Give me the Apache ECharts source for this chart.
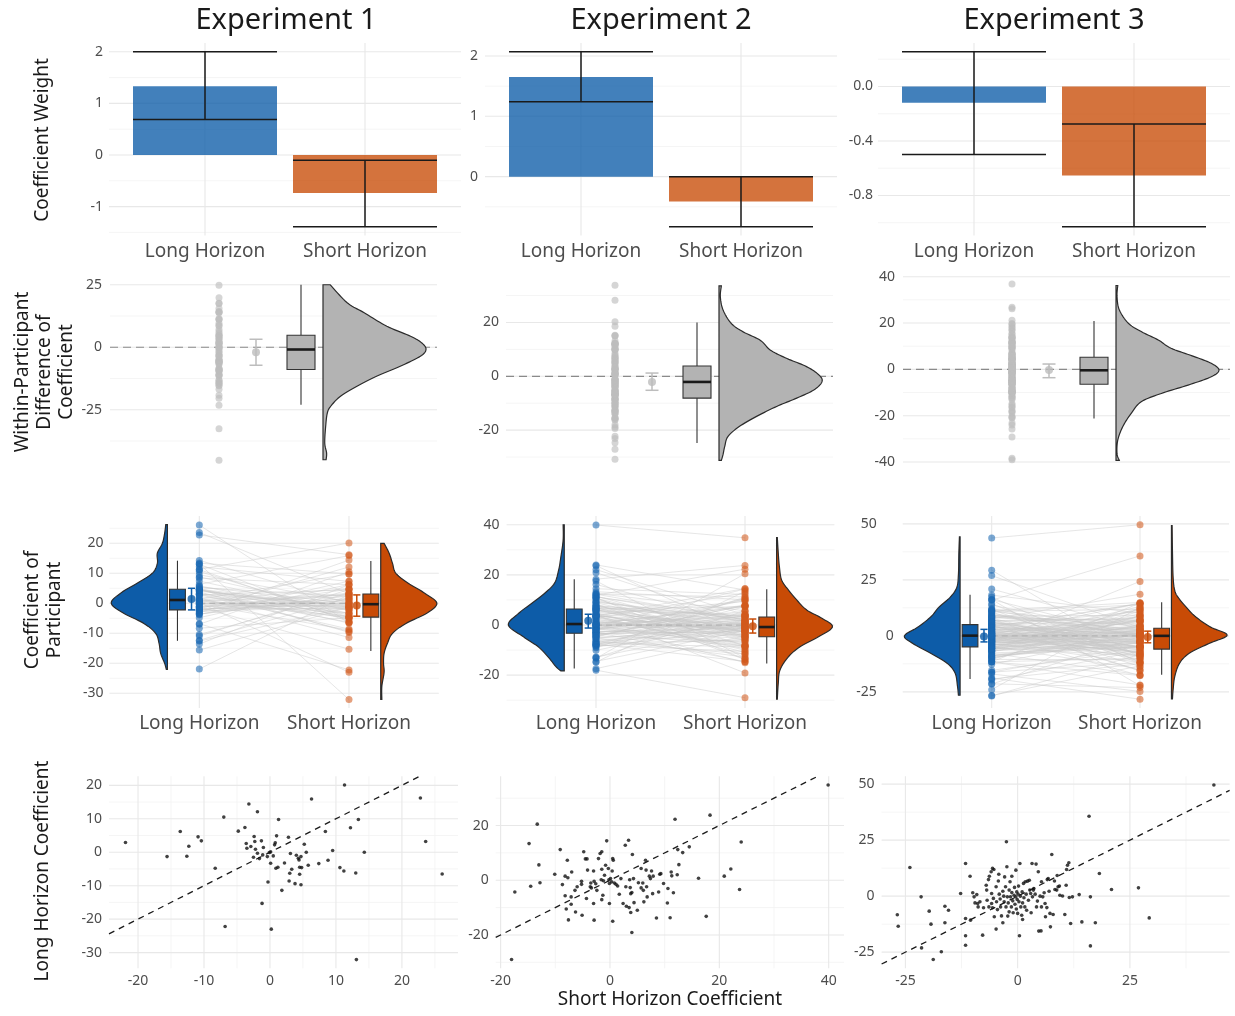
<!DOCTYPE html>
<html><head><meta charset="utf-8">
<script src="https://cdn.jsdelivr.net/npm/echarts@6/dist/echarts.min.js"></script>
<style>html,body{margin:0;padding:0;background:#fff}#c{width:1235px;height:1016px}</style>
</head><body><div id="c"></div>
<script>
// ---------------- DATA ----------------
const experiments = ['Experiment 1', 'Experiment 2', 'Experiment 3'];
const horizons = ['Long Horizon', 'Short Horizon'];

// Row 1: coefficient weights (Long, Short) with interval bounds
const weightMean = [[1.33, -0.735], [1.65, -0.41], [-0.12, -0.653]];
const weightLow  = [[0.69, -1.39], [1.24, -0.83], [-0.50, -1.03]];
const weightHigh = [[2.00, -0.10], [2.07, 0.00], [0.255, -0.275]];

// Participant coefficient pairs: [horizontal value, vertical value]
const exp1Pairs = [[-21.9,2.9],[-15.6,-1.3],[-13.6,6.2],[-12.3,1.8],[-12.6,-1.2],[-10.9,4.6],[-10.4,3.4],[-8.3,-4.8],[-7.0,10.5],[-6.8,-22.2],[-4.8,6.3],[-3.8,7.4],[-3.2,14.4],[-3.6,2.6],[-3.5,1.2],[-2.9,1.7],[-1.9,12.1],[-2.4,4.7],[-2.3,3.2],[-2.2,0.9],[-2.5,-1.5],[-1.9,-0.3],[-1.6,-1.9],[-1.3,3.4],[-1.0,1.4],[-1.1,-0.8],[-1.2,-15.3],[-0.4,-1.3],[-0.1,-0.1],[0.1,0.1],[0.5,-1.1],[0.1,-3.3],[-0.3,-8.9],[0.2,-23.0],[1.3,9.8],[0.7,2.2],[0.8,2.8],[1.0,4.9],[0.9,-4.8],[1.2,-4.5],[1.8,-11.4],[2.2,-3.2],[2.8,4.5],[3.1,-0.4],[3.0,-6.3],[2.9,-8.6],[3.3,-5.1],[3.8,-9.4],[4.0,-0.9],[4.3,-1.8],[4.4,-2.3],[4.5,-4.5],[4.5,-6.6],[4.7,-1.3],[4.8,-4.6],[4.7,-9.7],[5.2,2.4],[5.5,0.0],[5.8,-3.9],[6.3,15.9],[7.4,-3.4],[8.4,6.2],[8.8,-2.4],[9.5,0.5],[10.6,-4.6],[11.2,-5.6],[11.3,20.1],[12.2,7.3],[13.0,-6.2],[13.1,-32.1],[13.4,9.8],[14.3,0.0],[22.8,16.2],[23.6,3.2],[26.1,-6.5]];
const exp2Pairs = [[-18.0,-29.0],[-17.4,-4.3],[-14.8,13.4],[-14.5,-2.2],[-13.3,20.5],[-13.0,5.6],[-12.8,-0.9],[-10.1,2.2],[-9.1,11.2],[-8.7,-1.6],[-8.2,1.5],[-8.2,-5.7],[-7.8,7.3],[-7.7,0.9],[-8.0,-10.5],[-7.6,-14.5],[-7.1,-8.8],[-7.1,-6.1],[-7.0,3.0],[-6.4,-3.7],[-6.3,-11.6],[-6.0,-2.4],[-5.2,-0.4],[-5.2,-1.5],[-5.1,-12.8],[-4.8,10.4],[-4.5,7.8],[-4.2,7.8],[-4.1,3.7],[-4.3,-6.7],[-3.5,-1.0],[-3.6,-2.4],[-3.4,-2.8],[-3.0,3.4],[-3.0,-8.5],[-2.9,-14.6],[-2.9,-0.4],[-2.6,-1.3],[-2.4,-3.7],[-2.1,7.9],[-1.8,9.8],[-1.5,10.4],[-1.5,4.0],[-1.6,0.2],[-1.3,-5.5],[-1.5,-7.1],[-1.2,-0.2],[-1.0,1.8],[-0.8,5.5],[-0.6,14.4],[-0.3,4.3],[-0.2,0.2],[-0.1,-1.2],[-0.1,-8.5],[0.1,0.6],[0.3,-0.6],[0.4,3.4],[0.5,7.9],[0.6,7.3],[0.5,-15.0],[0.8,-1.0],[1.1,-1.5],[1.4,-2.1],[1.7,-5.1],[2.0,0.6],[2.4,-8.5],[2.8,12.8],[2.9,-2.4],[3.0,-9.5],[3.4,14.6],[3.5,-10.0],[3.6,0.2],[3.7,-2.7],[3.8,-4.9],[3.8,-11.8],[4.0,-19.1],[4.1,9.4],[4.3,0.6],[4.0,-4.5],[4.4,-8.2],[5.0,-11.0],[5.2,-0.9],[5.7,-2.8],[5.7,4.3],[6.0,-1.0],[6.1,-3.7],[6.2,-7.9],[6.5,7.3],[6.6,3.7],[6.7,-2.4],[6.8,-6.1],[7.2,1.5],[7.4,0.6],[7.6,3.4],[7.8,-4.9],[7.9,1.5],[8.5,-13.8],[8.9,-4.3],[9.1,2.2],[9.3,2.4],[9.8,-1.2],[10.5,-8.3],[10.6,-3.0],[11.0,-13.7],[11.2,3.0],[11.3,1.6],[11.6,-4.6],[11.9,22.3],[12.3,2.0],[12.4,11.2],[12.6,5.7],[13.3,10.1],[14.5,12.2],[16.2,0.7],[17.6,-13.2],[18.3,23.8],[20.9,1.5],[22.1,4.1],[23.7,-3.4],[24.0,14.0],[39.9,34.8]];
const exp3Pairs = [[-26.8,-8.3],[-26.6,-13.4],[-24.0,12.8],[-21.5,-0.3],[-21.4,-23.1],[-19.7,-6.7],[-19.3,-12.5],[-18.8,-28.3],[-17.0,-24.8],[-16.2,-4.5],[-16.2,-11.9],[-15.4,-6.3],[-12.7,1.2],[-11.6,14.6],[-11.6,-10.0],[-11.6,-17.7],[-11.6,-21.9],[-10.6,8.9],[-10.5,-10.7],[-10.0,1.5],[-9.7,-0.3],[-9.5,-3.0],[-9.1,0.7],[-8.9,-3.3],[-8.8,-4.8],[-8.4,-2.5],[-7.8,-17.4],[-7.6,-5.2],[-7.0,4.9],[-6.9,2.7],[-6.8,-1.8],[-6.5,7.4],[-6.4,-4.8],[-6.3,8.9],[-5.9,10.9],[-5.6,12.4],[-5.3,11.9],[-5.8,1.2],[-5.8,-3.3],[-5.6,-5.2],[-5.4,-1.0],[-5.2,-9.2],[-4.8,-14.7],[-4.8,4.2],[-4.7,-2.5],[-4.5,-6.0],[-4.3,6.8],[-4.2,9.8],[-4.1,0.9],[-3.9,-1.3],[-3.8,-4.8],[-3.6,-8.8],[-3.3,2.2],[-3.3,-11.9],[-3.1,0.0],[-3.0,-2.5],[-2.9,8.6],[-2.7,4.2],[-2.6,-4.8],[-2.5,24.3],[-2.4,13.1],[-2.3,-0.3],[-2.2,-8.9],[-2.1,-3.0],[-1.9,2.7],[-1.9,-7.0],[-1.7,6.4],[-1.6,-0.3],[-1.4,-4.8],[-1.3,8.9],[-1.3,1.6],[-1.1,-2.1],[-1.0,-7.4],[-0.8,0.4],[-0.7,3.9],[-0.6,-3.6],[-0.4,-0.3],[-0.4,11.6],[-0.3,-5.7],[-0.2,1.9],[-0.1,-1.5],[0.0,-7.7],[0.1,0.9],[0.2,4.5],[0.3,-2.5],[0.4,-17.7],[0.5,14.6],[0.6,0.0],[0.7,-4.8],[0.9,-8.5],[1.0,1.9],[1.1,-3.0],[1.1,-10.4],[1.3,5.7],[1.4,-0.7],[1.6,-4.8],[1.7,6.4],[1.9,0.9],[2.0,-6.3],[2.2,6.7],[2.4,-1.8],[2.6,7.1],[2.7,2.7],[2.9,1.2],[3.0,-7.4],[3.2,14.6],[3.3,-0.3],[3.5,2.7],[3.6,3.4],[3.9,0.9],[4.1,14.3],[4.2,-4.8],[4.4,-2.2],[4.6,10.9],[4.7,-15.6],[5.0,0.0],[5.2,-15.5],[5.3,6.4],[5.3,-4.8],[5.6,-0.3],[5.9,1.5],[6.1,-3.3],[6.2,-9.2],[6.5,-5.1],[6.6,7.4],[6.8,7.9],[7.0,2.2],[7.2,-7.7],[7.3,-13.7],[7.6,18.6],[7.9,-8.2],[8.2,6.8],[8.3,3.0],[8.7,2.7],[8.8,9.2],[9.0,4.2],[9.3,4.5],[9.4,0.4],[10.0,0.1],[10.5,-8.2],[10.8,4.9],[10.9,11.9],[11.1,13.8],[11.4,14.9],[11.5,-0.6],[11.8,-12.2],[12.2,-0.3],[13.7,0.7],[14.3,-11.5],[16.2,-0.3],[16.2,-22.2],[15.9,35.7],[17.3,-11.9],[18.2,10.1],[20.9,3.0],[26.9,3.7],[29.3,-9.7],[43.7,49.6]];
const pairsByExp = [exp1Pairs, exp2Pairs, exp3Pairs];

// Row 2: within-participant difference summaries [min, Q1, median, Q3, max] and [mean, low, high]
const diffBox = [[-23.0,-8.9,-0.9,4.8,25.0],[-24.8,-8.1,-2.1,3.8,20.0],[-21.2,-6.4,-0.4,5.2,20.9]];
const diffMeanCI = [[-2.0,-7.2,3.2],[-2.1,-5.2,1.2],[-0.3,-3.6,2.3]];
// half-violin profiles [value, relative width]
const diffViolin1 = [[25,0.07],[17.8,0.235],[13.8,0.40],[8.4,0.62],[4.4,0.85],[1.7,0.96],[-0.9,1.0],[-3.6,0.945],[-7.6,0.75],[-11.6,0.52],[-15.6,0.33],[-19.6,0.17],[-23.6,0.075],[-26.3,0.042],[-31.6,0.026],[-38.3,0.017],[-42.3,0.035],[-45,0.03]];
const diffViolin2 = [[33.6,0.023],[29.5,0.013],[24.6,0.04],[19.6,0.12],[16.5,0.235],[13.4,0.40],[9.7,0.50],[6.6,0.66],[3.6,0.85],[0.5,0.97],[-2.0,1.0],[-5.1,0.92],[-8.1,0.755],[-11.2,0.56],[-14.9,0.365],[-18.6,0.2],[-22.3,0.088],[-26,0.056],[-29.1,0.039],[-31.2,0.023]];
const diffViolin3 = [[36.2,0.017],[31.5,0.01],[25.7,0.032],[19.9,0.12],[16.3,0.245],[12.7,0.41],[9.1,0.535],[5.5,0.76],[2.6,0.925],[-0.3,1.0],[-3.2,0.925],[-6.8,0.70],[-10.4,0.44],[-14,0.245],[-19.1,0.146],[-24.8,0.065],[-30.6,0.017],[-36.4,0.01],[-39.3,0.032]];
const diffViolins = [diffViolin1, diffViolin2, diffViolin3];

// Row 3: participant coefficient summaries
const coefBoxLong  = [[-12.5,-2.2,1.1,4.7,14.2],[-17.3,-3.3,0.4,6.4,18.3],[-19.3,-4.9,0.1,5.0,18.3]];
const coefBoxShort = [[-15.9,-4.6,-0.3,3.1,14.1],[-15.3,-4.7,-0.8,3.2,14.3],[-17.4,-5.9,0.0,3.4,15.0]];
const coefMeanLong  = [[1.4,-2.2,5.0],[1.7,-1.2,4.3],[-0.3,-2.7,2.9]];
const coefMeanShort = [[-0.7,-4.3,2.8],[-0.5,-3.2,2.4],[-0.5,-3.1,2.1]];
const coefViolinLong = [
  [[26.2,0.03],[23.3,0.05],[20,0.09],[16.7,0.18],[13.3,0.18],[10,0.27],[6.7,0.54],[3.3,0.84],[0,1.0],[-3.3,0.78],[-6.7,0.42],[-10,0.21],[-13.3,0.15],[-16.7,0.12],[-20,0.05],[-22,0.02]],
  [[40,0.02],[34,0.02],[27.3,0.06],[22,0.1],[16.7,0.175],[12.7,0.35],[8.7,0.58],[4.7,0.815],[0,1.0],[-4.7,0.73],[-8.7,0.465],[-12.7,0.29],[-16.7,0.145],[-18.3,0.06]],
  [[44.2,0.012],[36.4,0.023],[27.5,0.03],[21.6,0.06],[17.2,0.18],[12.8,0.38],[8.4,0.53],[3.9,0.76],[0,1.0],[-3.4,0.85],[-7.8,0.53],[-12.2,0.235],[-16.6,0.09],[-22.5,0.047],[-26.5,0.03]]
];
const coefViolinShort = [
  [[20,0.06],[16.7,0.15],[13.3,0.21],[10,0.27],[6.7,0.49],[3.3,0.79],[0,1.0],[-3.3,0.82],[-6.7,0.45],[-10,0.21],[-13.3,0.12],[-16.7,0.06],[-20,0.05],[-23,0.06],[-27.7,0.02],[-32,0.02]],
  [[34.9,0.013],[28.7,0.03],[23.3,0.05],[18,0.09],[14,0.21],[10,0.36],[6,0.54],[2.7,0.81],[-0.7,1.0],[-4.7,0.75],[-8.7,0.42],[-12.7,0.21],[-18,0.06],[-23.3,0.03],[-29.6,0.013]],
  [[49.2,0.012],[37.9,0.018],[26.1,0.03],[20.2,0.06],[17.2,0.12],[12.8,0.265],[8.4,0.44],[3.9,0.705],[0.3,1.0],[-3.4,0.675],[-7.8,0.32],[-12.2,0.146],[-18.1,0.06],[-24,0.03],[-28.1,0.018]]
];

// Tick values
const weightTicks = [[-1,0,1,2],[0,1,2],[-0.8,-0.4,0]];
const weightMinor = [[-1.5,-0.5,0.5,1.5],[-0.5,0.5,1.5],[-1.0,-0.6,-0.2,0.2]];
const diffTicks = [[-25,0,25],[-20,0,20],[-40,-20,0,20,40]];
const diffMinor = [[-37.5,-12.5,12.5],[-30,-10,10,30],[-30,-10,10,30]];
const coefTicks = [[-30,-20,-10,0,10,20],[-20,0,20,40],[-25,0,25,50]];
const coefMinor = [[-25,-15,-5,5,15,25],[-30,-10,10,30],[-12.5,12.5,37.5]];
const scatXTicks = [[-20,-10,0,10,20],[-20,0,20,40],[-25,0,25]];
const scatXMinor = [[-15,-5,5,15,25],[-10,10,30],[-12.5,12.5,37.5]];
const scatYTicks = [[-30,-20,-10,0,10,20],[-20,0,20],[-25,0,25,50]];
const scatYMinor = [[-25,-15,-5,5,15],[-30,-10,10,30],[-12.5,12.5,37.5]];

// ---------------- LAYOUT / STYLE ----------------
const FONT = '"Noto Sans", "Open Sans", sans-serif';
const BLUE = '#0d5ca8', ORANGE = '#c84b06';
const BLUE_A = 'rgba(13,92,168,0.78)', ORANGE_A = 'rgba(200,75,6,0.78)';
const BLUE_P = 'rgba(26,104,178,0.72)', ORANGE_P = 'rgba(210,90,30,0.72)';
const TICK = '#4d4d4d';
const rowsY = [[43,235.5],[276,468.5],[516,708],[776.3,968.3]];
const colsX = [
  [[109,461],[485,837],[878,1230]],
  [[110,437],[506,833],[903,1230]],
  [[109.5,438.8],[506.6,834.4],[902.7,1229]],
  [[109,458],[495.7,844],[881.6,1229.6]]
];
const xRanges = [
  [[0.4,2.6],[0.4,2.6],[0.4,2.6]],
  [[0,327],[0,327],[0,327]],
  [[0.4,2.6],[0.4,2.6],[0.4,2.6]],
  [[-24.4,28.5],[-20.9,42.8],[-30.3,47.2]]
];
const yRanges = [
  [[-1.56,2.17],[-0.975,2.215],[-1.094,0.319]],
  [[-48.5,28.5],[-34.25,37.25],[-42.8,40.3]],
  [[-34.9,29.1],[-33.1,43.5],[-32.2,53.5]],
  [[-34.7,22.7],[-32.2,38.0],[-32.2,53.5]]
];
const yLabelMargin = [[6,7,5],[8,7,8],[6,7,9],[7,7,7]];

const option = { animation:false, textStyle:{fontFamily:FONT}, grid:[], xAxis:[], yAxis:[], series:[], graphic:[] };

function smoothPts(pts, steps) {
  const out = [];
  for (let i = 0; i < pts.length - 1; i++) {
    const p0 = pts[Math.max(0,i-1)], p1 = pts[i], p2 = pts[i+1], p3 = pts[Math.min(pts.length-1,i+2)];
    for (let s = 0; s < steps; s++) {
      const t = s/steps, t2 = t*t, t3 = t2*t;
      const f = (a,b,c,d) => 0.5*((2*b) + (-a+c)*t + (2*a-5*b+4*c-d)*t2 + (-a+3*b-3*c+d)*t3);
      out.push([f(p0[0],p1[0],p2[0],p3[0]), f(p0[1],p1[1],p2[1],p3[1])]);
    }
  }
  out.push(pts[pts.length-1]);
  return out;
}

function addGrid(r, c, xLabelVals, xFmt, xFont, xMargin, yLabelVals, yFmt, yRich) {
  const g = option.grid.length;
  const [L, R] = colsX[r][c], [T, B] = rowsY[r];
  option.grid.push({left:L, top:T, width:R-L, height:B-T, containLabel:false, outerBoundsMode:'none'});
  option.xAxis.push({type:'value', gridIndex:g, min:xRanges[r][c][0], max:xRanges[r][c][1],
    splitLine:{show:false}, axisLine:{show:false}, axisTick:{show:false, customValues:xLabelVals},
    axisLabel:{show:xLabelVals.length>0, customValues:xLabelVals, formatter:xFmt, fontSize:xFont, color:TICK, margin:xMargin, fontFamily:FONT}});
  const yLab = {show:true, customValues:yLabelVals, formatter:yFmt, fontSize:14, color:TICK, margin:yLabelMargin[r][c], fontFamily:FONT};
  if (yRich) yLab.rich = yRich;
  option.yAxis.push({type:'value', gridIndex:g, min:yRanges[r][c][0], max:yRanges[r][c][1],
    splitLine:{show:false}, axisLine:{show:false}, axisTick:{show:false, customValues:yLabelVals},
    axisLabel:yLab});
  return g;
}

function gridLines(g, r, c, hMaj, hMin, vMaj, vMin) {
  const data = [];
  hMin.forEach(v => data.push([0, v, 0])); vMin.forEach(v => data.push([1, v, 0]));
  hMaj.forEach(v => data.push([0, v, 1])); vMaj.forEach(v => data.push([1, v, 1]));
  const x0 = xRanges[r][c][0], y0 = yRanges[r][c][0];
  option.series.push({type:'custom', xAxisIndex:g, yAxisIndex:g, silent:true, z:1, data,
    encode:{x:-1, y:-1},
    renderItem(p, api) {
      const cs = p.coordSys; const isV = api.value(0) === 1; const v = api.value(1); const maj = api.value(2) === 1;
      const style = {stroke: maj ? '#e8e8e8' : '#f2f2f2', lineWidth: maj ? 1.1 : 0.8};
      if (isV) { const x = api.coord([v, y0])[0]; return {type:'line', shape:{x1:x, y1:cs.y, x2:x, y2:cs.y+cs.height}, style}; }
      const y = api.coord([x0, v])[1];
      return {type:'line', shape:{x1:cs.x, y1:y, x2:cs.x+cs.width, y2:y}, style};
    }});
}

// horizontal dashed reference line; full = span the whole panel
function hDash(g, r, c, yv, full, xFrom, xTo, color, dash, z) {
  const x0 = xRanges[r][c][0];
  option.series.push({type:'custom', xAxisIndex:g, yAxisIndex:g, silent:true, z, data:[[yv]], encode:{x:-1,y:-1},
    renderItem(p, api) {
      const cs = p.coordSys;
      const y = api.coord([x0, api.value(0)])[1];
      let x1 = cs.x, x2 = cs.x + cs.width;
      if (!full) { x1 = api.coord([xFrom, yv])[0]; x2 = api.coord([xTo, yv])[0]; }
      return {type:'line', shape:{x1, y1:y, x2, y2:y}, style:{stroke:color, lineWidth:1.2, lineDash:dash}};
    }});
}

function violin(g, profile, baseX, maxW, dir, fill) {
  option.series.push({type:'custom', xAxisIndex:g, yAxisIndex:g, silent:true, z:3, data:[[baseX, 0]], encode:{x:-1,y:-1},
    renderItem(p, api) {
      const pts = profile.map(([v, w]) => api.coord([baseX + dir*w*maxW, v]));
      const base = api.coord([baseX, 0])[0];
      const curve = smoothPts(pts, 10).map(q => [dir > 0 ? Math.max(q[0], base) : Math.min(q[0], base), q[1]]);
      const poly = [[base, pts[0][1]], ...curve, [base, pts[pts.length-1][1]]];
      return {type:'polygon', shape:{points:poly}, style:{fill, stroke:'#2b2b2b', lineWidth:1.2}};
    }});
}

function box(g, stats, cx, halfW, fill) {
  option.series.push({type:'custom', xAxisIndex:g, yAxisIndex:g, silent:true, z:4, data:[[cx].concat(stats)], encode:{x:-1,y:-1},
    renderItem(p, api) {
      const [mn, q1, md, q3, mx] = stats;
      const a = api.coord([cx-halfW, q3]), b = api.coord([cx+halfW, q1]);
      const wTop = api.coord([cx, mx]), wQ3 = api.coord([cx, q3]), wQ1 = api.coord([cx, q1]), wBot = api.coord([cx, mn]);
      const m1 = api.coord([cx-halfW, md]), m2 = api.coord([cx+halfW, md]);
      const st = {stroke:'#333', lineWidth:1.1};
      return {type:'group', children:[
        {type:'line', shape:{x1:wTop[0], y1:wTop[1], x2:wQ3[0], y2:wQ3[1]}, style:st},
        {type:'line', shape:{x1:wQ1[0], y1:wQ1[1], x2:wBot[0], y2:wBot[1]}, style:st},
        {type:'rect', shape:{x:a[0], y:a[1], width:b[0]-a[0], height:b[1]-a[1]}, style:{fill, stroke:'#333', lineWidth:1.1}},
        {type:'line', shape:{x1:m1[0], y1:m1[1], x2:m2[0], y2:m2[1]}, style:{stroke:'#1a1a1a', lineWidth:2.6}}
      ]};
    }});
}

function errBar(g, x, lo, hi, capHalf, color, lw, z) {
  option.series.push({type:'custom', xAxisIndex:g, yAxisIndex:g, silent:true, z, data:[[x, lo, hi]], encode:{x:-1,y:-1},
    renderItem(p, api) {
      const t1 = api.coord([x-capHalf, hi]), t2 = api.coord([x+capHalf, hi]);
      const b1 = api.coord([x-capHalf, lo]), b2 = api.coord([x+capHalf, lo]);
      const c1 = api.coord([x, hi]), c2 = api.coord([x, lo]);
      const st = {stroke:color, lineWidth:lw};
      return {type:'group', children:[
        {type:'line', shape:{x1:c1[0], y1:c1[1], x2:c2[0], y2:c2[1]}, style:st},
        {type:'line', shape:{x1:t1[0], y1:t1[1], x2:t2[0], y2:t2[1]}, style:st},
        {type:'line', shape:{x1:b1[0], y1:b1[1], x2:b2[0], y2:b2[1]}, style:st}
      ]};
    }});
}

const intFmt = v => String(Math.round(v * 10) / 10);
const catFmt = v => horizons[Math.round(v) - 1];

// ---------------- ROW 1: bar charts ----------------
for (let e = 0; e < 3; e++) {
  const fmt = e === 2 ? (v => (Math.round(v*10)/10).toFixed(1)) : intFmt;
  const g = addGrid(0, e, [1,2], catFmt, 19, 7, weightTicks[e], fmt);
  gridLines(g, 0, e, weightTicks[e], weightMinor[e], [1,2], []);
  const cols = [BLUE_A, ORANGE_A];
  option.series.push({type:'custom', xAxisIndex:g, yAxisIndex:g, silent:true, z:3, encode:{x:-1,y:-1},
    data: weightMean[e].map((m, i) => [i + 1, m, i]),
    renderItem(p, api) {
      const x = api.value(0), m = api.value(1);
      const a = api.coord([x-0.45, 0]), b = api.coord([x+0.45, m]);
      return {type:'rect', shape:{x:a[0], y:Math.min(a[1], b[1]), width:b[0]-a[0], height:Math.abs(b[1]-a[1])}, style:{fill:cols[api.value(2)]}};
    }});
  for (let i = 0; i < 2; i++) errBar(g, i + 1, weightLow[e][i], weightHigh[e][i], 0.45, '#1a1a1a', 1.5, 4);
}

// ---------------- ROW 2: within-participant differences ----------------
for (let e = 0; e < 3; e++) {
  const g = addGrid(1, e, [], null, 14, 5, diffTicks[e], intFmt);
  gridLines(g, 1, e, diffTicks[e], diffMinor[e], [], []);
  hDash(g, 1, e, 0, true, 0, 0, '#8a8a8a', [8,5], 2);
  const diffs = pairsByExp[e].map(p => Math.round((p[1] - p[0]) * 10) / 10);
  violin(g, diffViolins[e], 213, 103, 1, '#b3b3b3');
  box(g, diffBox[e], 191, 14, '#b3b3b3');
  errBar(g, 146, diffMeanCI[e][1], diffMeanCI[e][2], 6.5, '#bdbdbd', 1.5, 4);
  option.series.push({type:'scatter', xAxisIndex:g, yAxisIndex:g, silent:true, z:5, symbolSize:8,
    itemStyle:{color:'#bdbdbd'}, data:[[146, diffMeanCI[e][0]]]});
  option.series.push({type:'scatter', xAxisIndex:g, yAxisIndex:g, silent:true, z:5, symbolSize:7,
    itemStyle:{color:'rgba(190,190,190,0.8)'}, data: diffs.map(d => [109, d])});
}

// ---------------- ROW 3: paired participant coefficients ----------------
for (let e = 0; e < 3; e++) {
  let fmt = intFmt, rich = null;
  if (e === 2) { // non-zero labels in this panel sit further left in the reference
    fmt = v => Math.abs(v) < 1e-9 ? '0' : '{s|' + intFmt(v) + '}';
    rich = {s:{padding:[0,17,0,0], fontSize:14, color:TICK, fontFamily:FONT}};
  }
  const g = addGrid(2, e, [1,2], catFmt, 19, 6, coefTicks[e], fmt, rich);
  gridLines(g, 2, e, coefTicks[e], coefMinor[e], [1,2], []);
  const pairs = pairsByExp[e];
  option.series.push({type:'custom', xAxisIndex:g, yAxisIndex:g, silent:true, z:2, encode:{x:-1,y:-1},
    data: pairs.map(p => [p[0], p[1]]),
    renderItem(p, api) {
      const a = api.coord([1, api.value(0)]), b = api.coord([2, api.value(1)]);
      return {type:'line', shape:{x1:a[0], y1:a[1], x2:b[0], y2:b[1]}, style:{stroke:'rgba(200,200,200,0.45)', lineWidth:1}};
    }});
  hDash(g, 2, e, 0, false, 1, 2, '#b5b5b5', [6,4], 2);
  violin(g, coefViolinLong[e], 1 - 0.213, 0.375, -1, BLUE);
  violin(g, coefViolinShort[e], 2 + 0.212, 0.375, 1, ORANGE);
  box(g, coefBoxLong[e], 1 - 0.146, 0.053, BLUE);
  box(g, coefBoxShort[e], 2 + 0.146, 0.053, ORANGE);
  errBar(g, 1 - 0.052, coefMeanLong[e][1], coefMeanLong[e][2], 0.024, BLUE, 1.5, 4);
  errBar(g, 2 + 0.052, coefMeanShort[e][1], coefMeanShort[e][2], 0.024, ORANGE, 1.5, 4);
  option.series.push({type:'scatter', xAxisIndex:g, yAxisIndex:g, silent:true, z:5, symbolSize:8,
    data:[{value:[1 - 0.052, coefMeanLong[e][0]], itemStyle:{color:BLUE}}, {value:[2 + 0.052, coefMeanShort[e][0]], itemStyle:{color:ORANGE}}]});
  option.series.push({type:'scatter', xAxisIndex:g, yAxisIndex:g, silent:true, z:5, symbolSize:7,
    itemStyle:{color:BLUE_P}, data: pairs.map(p => [1, p[0]])});
  option.series.push({type:'scatter', xAxisIndex:g, yAxisIndex:g, silent:true, z:5, symbolSize:7,
    itemStyle:{color:ORANGE_P}, data: pairs.map(p => [2, p[1]])});
}

// ---------------- ROW 4: scatter ----------------
for (let e = 0; e < 3; e++) {
  const g = addGrid(3, e, scatXTicks[e], intFmt, 14, 6, scatYTicks[e], intFmt);
  gridLines(g, 3, e, scatYTicks[e], scatYMinor[e], scatXTicks[e], scatXMinor[e]);
  const lo = Math.max(xRanges[3][e][0], yRanges[3][e][0]), hi = Math.min(xRanges[3][e][1], yRanges[3][e][1]);
  option.series.push({type:'custom', xAxisIndex:g, yAxisIndex:g, silent:true, z:3, data:[[lo, hi]], encode:{x:-1,y:-1},
    renderItem(p, api) {
      const a = api.coord([api.value(0), api.value(0)]), b = api.coord([api.value(1), api.value(1)]);
      return {type:'line', shape:{x1:a[0], y1:a[1], x2:b[0], y2:b[1]}, style:{stroke:'#1a1a1a', lineWidth:1.3, lineDash:[6,5]}};
    }});
  option.series.push({type:'scatter', xAxisIndex:g, yAxisIndex:g, silent:true, z:4, symbolSize:3.6,
    itemStyle:{color:'#111'}, data: pairsByExp[e].map(p => [p[0], p[1]])});
}

// ---------------- TEXT ----------------
const titleX = [286, 661, 1054];
experiments.forEach((t, i) => option.graphic.push({type:'text', x:titleX[i], y:21, silent:true,
  style:{text:t, fontSize:29, fontFamily:FONT, fill:'#1a1a1a', textAlign:'center', textVerticalAlign:'middle'}}));
function vText(text, x, y, lh) {
  option.graphic.push({type:'text', x, y, rotation:Math.PI/2, silent:true,
    style:{text, fontSize:19, fontFamily:FONT, fill:'#1a1a1a', textAlign:'center', textVerticalAlign:'middle', lineHeight:lh || 22}});
}
vText('Coefficient Weight', 43, 140);
vText('Within-Participant\nDifference of\nCoefficient', 45, 372, 22);
vText('Coefficient of\nParticipant', 44, 610, 22);
vText('Long Horizon Coefficient', 43, 871);
option.graphic.push({type:'text', x:670, y:1000, silent:true,
  style:{text:'Short Horizon Coefficient', fontSize:19, fontFamily:FONT, fill:'#1a1a1a', textAlign:'center', textVerticalAlign:'middle'}});

const chart = echarts.init(document.getElementById('c'), null, {renderer:'canvas'});
chart.setOption(option);
</script></body></html>
